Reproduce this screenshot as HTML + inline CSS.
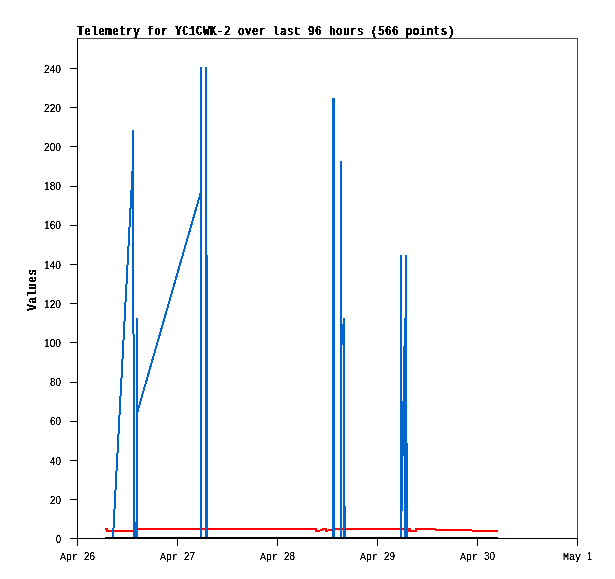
<!DOCTYPE html>
<html lang="en"><head><meta charset="utf-8"><title>Telemetry for YC1CWK-2</title>
<style>
html,body{margin:0;padding:0;background:#fff;}
svg{display:block;}
.s{font-family:"Liberation Mono",monospace;font-size:11.8px;fill:#000;}
.n{font-family:"Liberation Sans",sans-serif;font-size:11.6px;fill:#000;}
.b{font-family:"Liberation Mono",monospace;font-size:13.4px;fill:#000;}
</style></head><body>
<svg width="615" height="579" viewBox="0 0 615 579">
<rect x="0" y="0" width="615" height="579" fill="#fff"/>
<g shape-rendering="crispEdges">
<rect x="77" y="38" width="501" height="1" fill="#484848"/>
<rect x="577" y="38" width="1" height="501" fill="#484848"/>
<rect x="77" y="38" width="1" height="501" fill="#000"/>
<rect x="77" y="538" width="501" height="1" fill="#000"/>
<rect x="70" y="538" width="7" height="1" fill="#000"/>
<rect x="70" y="499" width="7" height="1" fill="#000"/>
<rect x="70" y="460" width="7" height="1" fill="#000"/>
<rect x="70" y="421" width="7" height="1" fill="#000"/>
<rect x="70" y="382" width="7" height="1" fill="#000"/>
<rect x="70" y="342" width="7" height="1" fill="#000"/>
<rect x="70" y="303" width="7" height="1" fill="#000"/>
<rect x="70" y="264" width="7" height="1" fill="#000"/>
<rect x="70" y="225" width="7" height="1" fill="#000"/>
<rect x="70" y="186" width="7" height="1" fill="#000"/>
<rect x="70" y="146" width="7" height="1" fill="#000"/>
<rect x="70" y="107" width="7" height="1" fill="#000"/>
<rect x="70" y="68" width="7" height="1" fill="#000"/>
<rect x="77" y="538" width="1" height="8" fill="#000"/>
<rect x="177" y="538" width="1" height="8" fill="#000"/>
<rect x="277" y="538" width="1" height="8" fill="#000"/>
<rect x="377" y="538" width="1" height="8" fill="#000"/>
<rect x="477" y="538" width="1" height="8" fill="#000"/>
<rect x="577" y="538" width="1" height="8" fill="#000"/>
</g>
<g fill="#ff0000" shape-rendering="crispEdges">
<rect x="105" y="528" width="3" height="2"/>
<rect x="106" y="528" width="2" height="4"/>
<rect x="106" y="530" width="28" height="2"/>
<rect x="134" y="528" width="183" height="2"/>
<rect x="315" y="528" width="2" height="4"/>
<rect x="315" y="530" width="5" height="2"/>
<rect x="320" y="529" width="3" height="2"/>
<rect x="322" y="528" width="5" height="2"/>
<rect x="325" y="528" width="2" height="4"/>
<rect x="325" y="530" width="3" height="2"/>
<rect x="328" y="529" width="5" height="2"/>
<rect x="332" y="528" width="79" height="2"/>
<rect x="408" y="528" width="3" height="4"/>
<rect x="408" y="530" width="9" height="2"/>
<rect x="415" y="528" width="2" height="4"/>
<rect x="415" y="528" width="21" height="2"/>
<rect x="435" y="529" width="37" height="2"/>
<rect x="472" y="530" width="26" height="2"/>
</g>
<g fill="#0066cc" stroke="none" shape-rendering="crispEdges">
<rect x="132" y="130" width="2" height="204"/>
<rect x="133" y="334" width="2" height="204"/>
<rect x="136" y="318" width="2" height="220"/>
<rect x="133" y="522" width="5" height="16"/>
<rect x="200" y="67" width="2" height="471"/>
<rect x="205" y="67" width="2" height="471"/>
<rect x="207" y="255" width="1" height="283"/>
<rect x="332" y="98" width="3" height="440"/>
<rect x="340" y="161" width="2" height="377"/>
<rect x="343" y="318" width="2" height="220"/>
<rect x="340" y="324" width="5" height="21"/>
<rect x="345" y="506" width="1" height="32"/>
<rect x="400" y="255" width="2" height="283"/>
<rect x="405" y="255" width="2" height="283"/>
<rect x="404" y="318" width="1" height="220"/>
<rect x="403" y="346" width="1" height="110"/>
<rect x="402" y="401" width="1" height="110"/>
<rect x="407" y="443" width="1" height="95"/>
</g>
<g fill="none" stroke="#0066cc" stroke-width="2" stroke-linecap="butt" shape-rendering="crispEdges">
<line x1="112.97" y1="538" x2="132.51" y2="171"/>
<line x1="137.4" y1="412" x2="200.6" y2="193"/>
</g>
<rect x="105" y="537" width="393" height="2" fill="#000" shape-rendering="crispEdges"/>
<defs><filter id="bm" x="0" y="0" width="615" height="579" filterUnits="userSpaceOnUse" color-interpolation-filters="sRGB"><feComponentTransfer><feFuncA type="linear" slope="3.5" intercept="-0.8"/></feComponentTransfer></filter><filter id="bh" x="0" y="0" width="615" height="60" filterUnits="userSpaceOnUse" color-interpolation-filters="sRGB"><feComponentTransfer result="a"><feFuncA type="discrete" tableValues="0 0 1 1 1"/></feComponentTransfer><feOffset in="a" dx="1" dy="0" result="b"/><feMerge><feMergeNode in="a"/><feMergeNode in="b"/></feMerge></filter><filter id="bv" x="0" y="200" width="60" height="200" filterUnits="userSpaceOnUse" color-interpolation-filters="sRGB"><feComponentTransfer result="a"><feFuncA type="discrete" tableValues="0 0 1 1 1"/></feComponentTransfer><feOffset in="a" dx="0" dy="-1" result="b"/><feMerge><feMergeNode in="a"/><feMergeNode in="b"/></feMerge></filter></defs>
<g filter="url(#bh)"><text class="b" transform="translate(77,35) scale(0.75,1)" x="0" y="0" style="letter-spacing:1.292px">Telemetry for YC1CWK-2 over last 96 hours (566 points)</text></g>
<g filter="url(#bv)"><text class="b" transform="translate(36,311) rotate(-90) scale(0.75,1)" x="0" y="0" style="letter-spacing:1.292px">Values</text></g>
<g filter="url(#bm)">
<text class="n" x="56" y="543" textLength="5" lengthAdjust="spacingAndGlyphs">0</text>
<text class="n" x="50" y="504" textLength="11" lengthAdjust="spacingAndGlyphs">20</text>
<text class="n" x="50" y="465" textLength="11" lengthAdjust="spacingAndGlyphs">40</text>
<text class="n" x="50" y="425" textLength="11" lengthAdjust="spacingAndGlyphs">60</text>
<text class="n" x="50" y="386" textLength="11" lengthAdjust="spacingAndGlyphs">80</text>
<text class="n" x="44" y="347" textLength="17" lengthAdjust="spacingAndGlyphs">100</text>
<text class="n" x="44" y="308" textLength="17" lengthAdjust="spacingAndGlyphs">120</text>
<text class="n" x="44" y="269" textLength="17" lengthAdjust="spacingAndGlyphs">140</text>
<text class="n" x="44" y="229" textLength="17" lengthAdjust="spacingAndGlyphs">160</text>
<text class="n" x="44" y="190" textLength="17" lengthAdjust="spacingAndGlyphs">180</text>
<text class="n" x="44" y="151" textLength="17" lengthAdjust="spacingAndGlyphs">200</text>
<text class="n" x="44" y="112" textLength="17" lengthAdjust="spacingAndGlyphs">220</text>
<text class="n" x="44" y="73" textLength="17" lengthAdjust="spacingAndGlyphs">240</text>
<text y="560"><tspan class="s" x="60" textLength="18" lengthAdjust="spacingAndGlyphs">Apr</tspan> <tspan class="n" x="84" textLength="11" lengthAdjust="spacingAndGlyphs">26</tspan></text>
<text y="560"><tspan class="s" x="160" textLength="18" lengthAdjust="spacingAndGlyphs">Apr</tspan> <tspan class="n" x="184" textLength="11" lengthAdjust="spacingAndGlyphs">27</tspan></text>
<text y="560"><tspan class="s" x="260" textLength="18" lengthAdjust="spacingAndGlyphs">Apr</tspan> <tspan class="n" x="284" textLength="11" lengthAdjust="spacingAndGlyphs">28</tspan></text>
<text y="560"><tspan class="s" x="360" textLength="18" lengthAdjust="spacingAndGlyphs">Apr</tspan> <tspan class="n" x="384" textLength="11" lengthAdjust="spacingAndGlyphs">29</tspan></text>
<text y="560"><tspan class="s" x="460" textLength="18" lengthAdjust="spacingAndGlyphs">Apr</tspan> <tspan class="n" x="484" textLength="11" lengthAdjust="spacingAndGlyphs">30</tspan></text>
<text y="560"><tspan class="s" x="563" textLength="18" lengthAdjust="spacingAndGlyphs">May</tspan> <tspan class="n" x="587" textLength="5" lengthAdjust="spacingAndGlyphs">1</tspan></text>
</g>
</svg>
</body></html>
